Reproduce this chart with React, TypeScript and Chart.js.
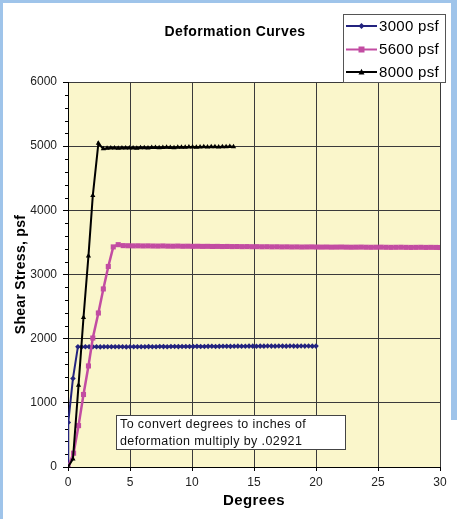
import React, { useEffect, useRef } from 'react';
import { Chart, registerables } from 'chart.js';

Chart.register(...registerables);

const chartTitle = 'Deformation Curves';
const xTitle = 'Degrees';
const yTitle = 'Shear Stress, psf';
const noteLines = ['To convert degrees to inches of', 'deformation multiply by .02921'];
const seriesNames = ['3000 psf', '5600 psf', '8000 psf'];

const xMin = 0, xMax = 30, xStep = 5;
const yMin = 0, yMax = 6000, yStep = 1000, yMinorStep = 200;

const deg3000 = [0, 0.02, 0.4, 0.8,
  1.1, 1.4, 1.7, 2.0, 2.3, 2.6, 2.9, 3.2, 3.5, 3.8,
  4.1, 4.4, 4.7, 5.0, 5.3, 5.6, 5.9, 6.2, 6.5, 6.8,
  7.1, 7.4, 7.7, 8.0, 8.3, 8.6, 8.9, 9.2, 9.5, 9.8,
  10.1, 10.4, 10.7, 11.0, 11.3, 11.6, 11.9, 12.2, 12.5, 12.8,
  13.1, 13.4, 13.7, 14.0, 14.3, 14.6, 14.9, 15.2, 15.5, 15.8,
  16.1, 16.4, 16.7, 17.0, 17.3, 17.6, 17.9, 18.2, 18.5, 18.8,
  19.1, 19.4, 19.7, 20.0];
const psf3000 = [0, 695, 1380, 1875,
  1872, 1874, 1873, 1875, 1874, 1872, 1874, 1875, 1873, 1874,
  1875, 1873, 1872, 1874, 1875, 1874, 1873, 1875, 1876, 1874,
  1875, 1877, 1876, 1875, 1877, 1878, 1876, 1877, 1878, 1879,
  1878, 1880, 1879, 1878, 1880, 1881, 1879, 1880, 1882, 1881,
  1880, 1882, 1883, 1881, 1882, 1884, 1883, 1882, 1884, 1883,
  1885, 1884, 1883, 1885, 1884, 1883, 1885, 1884, 1883, 1885,
  1884, 1885, 1883, 1884];

const deg5600 = [0, 0.45, 0.85, 1.25, 1.65, 2.0, 2.45, 2.85, 3.25, 3.65, 4.05,
  4.45, 4.85, 5.25, 5.65, 6.05, 6.45, 6.85, 7.25, 7.65, 8.05,
  8.45, 8.85, 9.25, 9.65, 10.05, 10.45, 10.85, 11.25, 11.65, 12.05,
  12.45, 12.85, 13.25, 13.65, 14.05, 14.45, 14.85, 15.25, 15.65, 16.05,
  16.45, 16.85, 17.25, 17.65, 18.05, 18.45, 18.85, 19.25, 19.65, 20.05,
  20.45, 20.85, 21.25, 21.65, 22.05, 22.45, 22.85, 23.25, 23.65, 24.05,
  24.45, 24.85, 25.25, 25.65, 26.05, 26.45, 26.85, 27.25, 27.65, 28.05,
  28.45, 28.85, 29.25, 29.65, 30.0];
const psf5600 = [0, 215, 645, 1130, 1575, 2010, 2400, 2775, 3125, 3430, 3465,
  3450, 3448, 3446, 3447, 3445, 3446, 3444, 3443, 3445, 3442,
  3441, 3443, 3440, 3441, 3439, 3440, 3438, 3439, 3437, 3438,
  3436, 3437, 3435, 3436, 3434, 3435, 3433, 3434, 3432, 3433,
  3431, 3432, 3430, 3431, 3429, 3430, 3428, 3429, 3430, 3428,
  3427, 3428, 3426, 3427, 3428, 3426, 3425, 3426, 3427, 3425,
  3424, 3425, 3426, 3424, 3423, 3424, 3425, 3423, 3422, 3423,
  3424, 3422, 3423, 3422, 3421];

const deg8000 = [0, 0.4, 0.85, 1.25, 1.65, 2.0, 2.45,
  2.85, 3.15, 3.45, 3.75, 4.05, 4.35, 4.65, 4.95, 5.25, 5.55,
  5.85, 6.15, 6.45, 6.75, 7.05, 7.35, 7.65, 7.95, 8.25, 8.55,
  8.85, 9.15, 9.45, 9.75, 10.05, 10.35, 10.65, 10.95, 11.25, 11.55,
  11.85, 12.15, 12.45, 12.75, 13.05, 13.35];
const psf8000 = [0, 125, 1275, 2330, 3290, 4230, 5045,
  4958, 4968, 4972, 4970, 4968, 4971, 4973, 4970, 4972, 4969,
  4974, 4976, 4973, 4978, 4980, 4975, 4978, 4982, 4980, 4977,
  4983, 4985, 4982, 4986, 4988, 4984, 4987, 4990, 4986, 4989,
  4991, 4988, 4992, 4990, 4993, 4991];

const colors = ['#23237f', '#c24ca2', '#000000'];
const pointStyles = ['rectRot', 'rect', 'triangle'];

const FONT = '"Liberation Sans", Arial, sans-serif';

function drawMarker(ctx: CanvasRenderingContext2D, style: string, x: number, y: number, r: number, color: string) {
  ctx.save();
  ctx.fillStyle = color;
  ctx.beginPath();
  if (style === 'rect') {
    ctx.rect(x - r, y - r, 2 * r, 2 * r);
  } else if (style === 'rectRot') {
    ctx.moveTo(x, y - r); ctx.lineTo(x + r, y); ctx.lineTo(x, y + r); ctx.lineTo(x - r, y); ctx.closePath();
  } else {
    ctx.moveTo(x, y - r * 1.1); ctx.lineTo(x + r, y + r * 0.8); ctx.lineTo(x - r, y + r * 0.8); ctx.closePath();
  }
  ctx.fill();
  ctx.restore();
}

const decorPlugin = {
  id: 'decor',
  beforeDraw(chart: any) {
    const { ctx, chartArea: a, width, height } = chart;
    ctx.save();
    ctx.fillStyle = '#ffffff';
    ctx.fillRect(0, 0, width, height);
    ctx.fillStyle = '#9fc4ea';
    ctx.fillRect(0, 0, width, 3);
    ctx.fillRect(0, 0, 3, height);
    ctx.fillRect(width - 6, 0, 6, 420);
    ctx.fillStyle = '#faf6cb';
    ctx.fillRect(a.left, a.top, a.right - a.left, a.bottom - a.top);
    ctx.restore();
  },
  afterDraw(chart: any) {
    const { ctx, chartArea: a, scales } = chart;
    const ys = scales.y;
    ctx.save();
    ctx.strokeStyle = '#000';
    ctx.lineWidth = 1;
    for (let v = yMin; v <= yMax; v += yMinorStep) {
      if (v % yStep === 0) continue;
      const py = Math.round(ys.getPixelForValue(v)) + 0.5;
      ctx.beginPath();
      ctx.moveTo(a.left - 3, py);
      ctx.lineTo(a.left, py);
      ctx.stroke();
    }
    ctx.fillStyle = '#000';
    ctx.textAlign = 'center';
    ctx.textBaseline = 'middle';
    ctx.font = `bold 14px ${FONT}`;
    (ctx as any).letterSpacing = '0.4px';
    ctx.fillText(chartTitle, 235, 32);
    ctx.font = `bold 15px ${FONT}`;
    ctx.fillText(xTitle, (a.left + a.right) / 2, 501);
    ctx.save();
    ctx.translate(21, (a.top + a.bottom) / 2);
    ctx.rotate(-Math.PI / 2);
    ctx.font = `bold 14px ${FONT}`;
    (ctx as any).letterSpacing = '0.3px';
    ctx.fillText(yTitle, 0, 0);
    ctx.restore();
    ctx.fillStyle = '#ffffff';
    ctx.fillRect(117, 416, 229, 34);
    ctx.strokeStyle = '#444';
    ctx.strokeRect(116.5, 415.5, 229, 34);
    ctx.fillStyle = '#111';
    ctx.textAlign = 'left';
    ctx.font = `12.5px ${FONT}`;
    (ctx as any).letterSpacing = '0.4px';
    ctx.fillText(noteLines[0], 120, 425);
    ctx.fillText(noteLines[1], 120, 442);
    ctx.fillStyle = '#ffffff';
    ctx.fillRect(343, 14, 102, 68);
    ctx.strokeStyle = '#555';
    ctx.strokeRect(343.5, 14.5, 102, 68);
    const rowsY = [26, 49.5, 72];
    ctx.font = `15px ${FONT}`;
    (ctx as any).letterSpacing = '0.3px';
    for (let i = 0; i < seriesNames.length; i++) {
      const yy = rowsY[i];
      ctx.strokeStyle = colors[i];
      ctx.lineWidth = 2;
      ctx.beginPath();
      ctx.moveTo(346, yy);
      ctx.lineTo(377, yy);
      ctx.stroke();
      drawMarker(ctx, pointStyles[i], 361.5, yy, 3, colors[i]);
      ctx.fillStyle = '#000';
      ctx.fillText(seriesNames[i], 379, yy + 0.5);
    }
    ctx.restore();
  },
};

function toPoints(xs: number[], ys: number[]) {
  return xs.map((x, i) => ({ x, y: ys[i] }));
}

export default function App() {
  const ref = useRef<HTMLCanvasElement | null>(null);
  useEffect(() => {
    document.body.style.margin = '0';
    const canvas = ref.current!;
    Chart.defaults.font.family = FONT;
    const chart = new Chart(canvas, {
      type: 'line',
      data: {
        datasets: [
          {
            label: seriesNames[0], data: toPoints(deg3000, psf3000),
            borderColor: colors[0], backgroundColor: colors[0], borderWidth: 2,
            pointStyle: 'rectRot', pointRadius: 2.8, pointBorderWidth: 0, order: 3,
          },
          {
            label: seriesNames[1], data: toPoints(deg5600, psf5600),
            borderColor: colors[1], backgroundColor: colors[1], borderWidth: 2.5,
            pointStyle: 'rect', pointRadius: 3.6, pointBorderWidth: 0, order: 2,
          },
          {
            label: seriesNames[2], data: toPoints(deg8000, psf8000),
            borderColor: colors[2], backgroundColor: colors[2], borderWidth: 2,
            pointStyle: 'triangle', pointRadius: 3, pointBorderWidth: 0, order: 1,
          },
        ],
      },
      options: {
        responsive: false,
        animation: false,
        devicePixelRatio: 1,
        layout: { padding: { left: 0, top: 82, right: 17, bottom: 0 } },
        plugins: { legend: { display: false }, tooltip: { enabled: false }, title: { display: false } },
        elements: { line: { tension: 0 } },
        scales: {
          x: {
            type: 'linear', min: xMin, max: xMax,
            ticks: { stepSize: xStep, color: '#222', font: { size: 12 }, padding: 4, maxRotation: 0, callback: (v: any) => String(v) },
            grid: { color: '#3a3a3a', lineWidth: 1, tickLength: 4, tickColor: '#000' },
            border: { color: '#000', width: 1 },
            afterFit: (s: any) => { s.height = 52; },
          },
          y: {
            type: 'linear', min: yMin, max: yMax,
            ticks: { stepSize: yStep, color: '#222', font: { size: 12 }, padding: 6, callback: (v: any) => String(v) },
            grid: { color: '#3a3a3a', lineWidth: 1, tickLength: 5, tickColor: '#000' },
            border: { color: '#000', width: 1 },
            afterFit: (s: any) => { s.width = 68; },
          },
        },
      },
      plugins: [decorPlugin],
    } as any);
    return () => chart.destroy();
  }, []);
  return (
    <div style={{ width: 457, height: 519, position: 'relative' }}>
      <canvas ref={ref} width={457} height={519} style={{ display: 'block', width: 457, height: 519 }} />
    </div>
  );
}
